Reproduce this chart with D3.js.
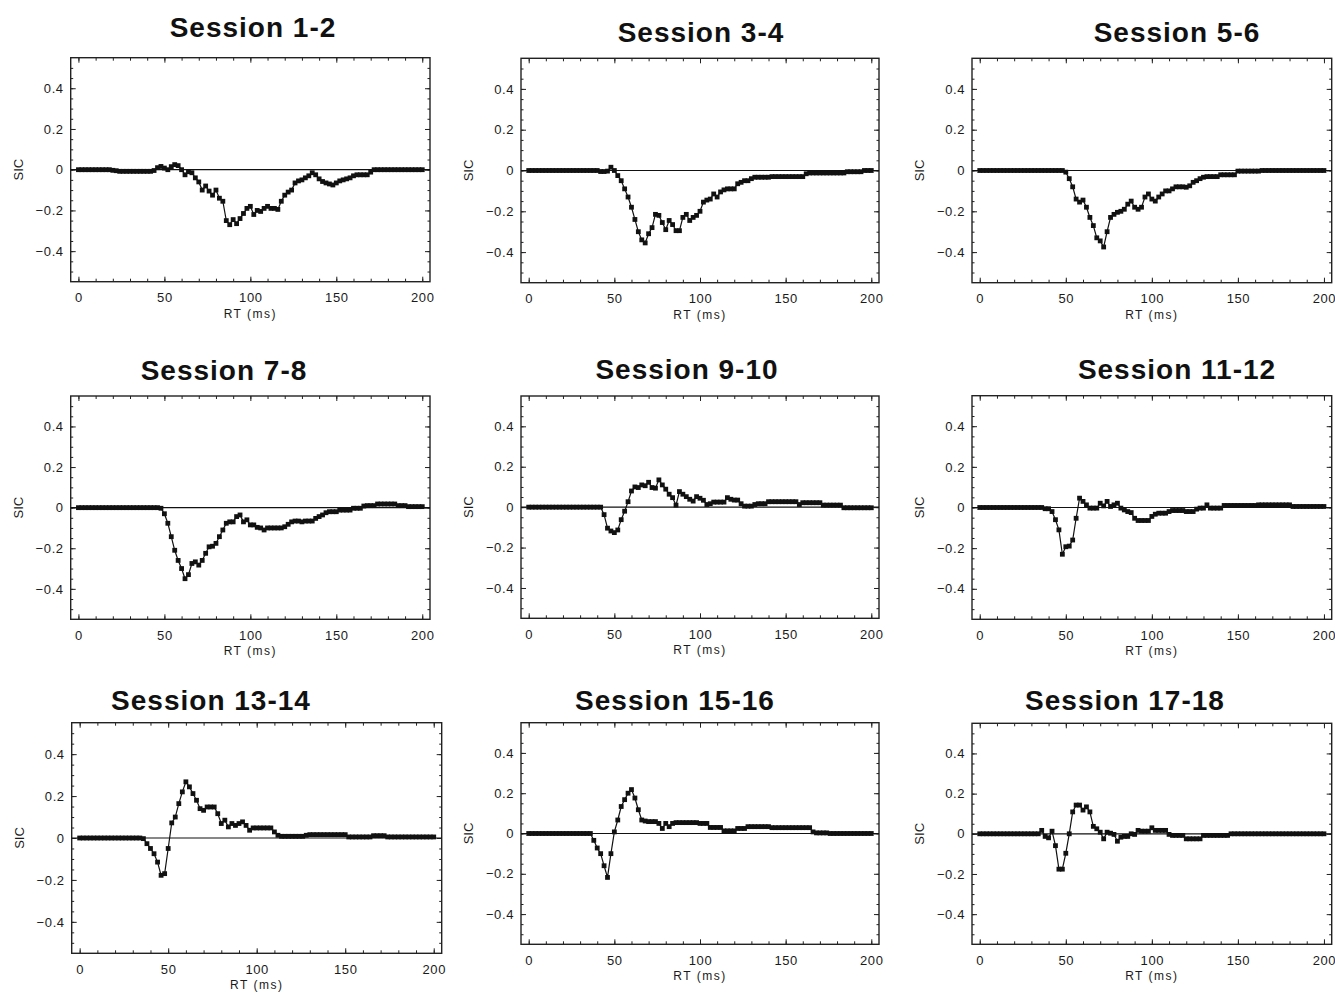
<!DOCTYPE html>
<html>
<head>
<meta charset="utf-8">
<script src="https://cdn.jsdelivr.net/npm/d3@7"></script>
<style>
  body { margin: 0; background: #fff; }
  svg { display: block; font-family: "Liberation Sans", Arial, sans-serif; }
</style>
</head>
<body>
<svg id="chart" width="1335" height="994"></svg>
<script>
// RT sampling grid (ms), one point every 2 ms
const rt = d3.range(0, 201, 2);

const titles = ["Session 1-2", "Session 3-4", "Session 5-6",
                "Session 7-8", "Session 9-10", "Session 11-12",
                "Session 13-14", "Session 15-16", "Session 17-18"];

const xTicks = [0, 50, 100, 150, 200];
const yTicks = [-0.4, -0.2, 0, 0.2, 0.4];

// SIC values, one per rt entry
const sic12 = [0,0,0,0,0,0,0,0,0,0,
  -0.003,-0.005,-0.008,-0.008,-0.008,-0.008,-0.008,-0.008,-0.008,-0.008,-0.008,-0.008,-0.004,
  0.01,0.016,0.008,0,0.015,0.025,0.02,0,-0.025,-0.01,-0.015,-0.04,-0.06,-0.1,-0.08,-0.105,-0.125,-0.1,-0.14,-0.155,
  -0.25,-0.27,-0.245,-0.265,-0.24,-0.215,-0.19,-0.18,-0.22,-0.2,-0.205,-0.19,-0.18,-0.19,-0.19,-0.195,-0.155,-0.125,
  -0.11,-0.1,-0.065,-0.055,-0.05,-0.04,-0.03,-0.015,-0.025,-0.045,-0.058,-0.065,-0.07,-0.075,-0.065,-0.055,-0.05,
  -0.045,-0.04,-0.03,-0.025,-0.025,-0.025,-0.025,-0.012,
  0,0,0,0,0,0,0,0,0,0,0,0,0,0,0];

const sic34 = [0,0,0,0,0,0,0,0,0,0,0,0,0,0,0,0,0,0,0,0,0,
  -0.005,-0.005,-0.003,0.016,0,-0.025,-0.05,-0.09,-0.13,-0.18,-0.24,-0.3,-0.34,-0.355,-0.31,-0.28,-0.215,-0.22,
  -0.255,-0.29,-0.245,-0.265,-0.295,-0.295,-0.23,-0.215,-0.245,-0.23,-0.22,-0.2,-0.155,-0.145,-0.14,-0.115,-0.13,
  -0.105,-0.095,-0.09,-0.09,-0.09,-0.065,-0.058,-0.05,-0.05,-0.04,
  -0.033,-0.033,-0.033,-0.033,-0.033,
  -0.03,-0.03,-0.03,-0.03,-0.03,-0.03,-0.03,-0.03,-0.03,-0.03,
  -0.016,
  -0.012,-0.012,-0.012,-0.012,-0.012,-0.012,-0.012,-0.012,-0.012,-0.012,-0.012,
  -0.006,-0.006,-0.006,-0.006,-0.006,0,0,0];

const sic56 = [0,0,0,0,0,0,0,0,0,0,0,0,0,0,0,0,0,0,0,0,0,0,0,0,0,
  -0.008,-0.04,-0.08,-0.14,-0.155,-0.145,-0.18,-0.23,-0.27,-0.33,-0.345,-0.375,-0.3,-0.23,-0.215,-0.205,-0.2,
  -0.19,-0.165,-0.15,-0.18,-0.19,-0.18,-0.13,-0.115,-0.14,-0.15,-0.13,-0.115,-0.1,-0.1,-0.09,-0.08,-0.08,-0.08,
  -0.082,-0.075,-0.058,-0.05,-0.04,-0.033,
  -0.03,-0.03,-0.03,-0.03,
  -0.021,-0.021,-0.021,-0.021,-0.021,
  -0.003,-0.003,-0.003,-0.003,-0.003,-0.003,-0.003,
  0,0,0,0,0,0,0,0,0,0,0,0,0,0,0,0,0,0,0];

const sic78 = [0,0,0,0,0,0,0,0,0,0,0,0,0,0,0,0,0,0,0,0,0,0,0,0,
  -0.003,-0.03,-0.077,-0.143,-0.21,-0.26,-0.3,-0.35,-0.33,-0.275,-0.267,-0.283,-0.26,-0.225,-0.193,-0.19,-0.176,
  -0.143,-0.11,-0.077,-0.07,-0.07,-0.044,-0.036,-0.07,-0.06,-0.085,-0.085,-0.097,-0.1,-0.11,-0.1,-0.1,-0.1,-0.1,
  -0.1,-0.094,-0.082,-0.07,-0.066,-0.066,-0.07,-0.066,-0.066,-0.066,-0.053,-0.044,-0.036,-0.025,-0.02,-0.02,-0.02,
  -0.012,-0.012,-0.012,-0.012,-0.003,-0.003,-0.003,0.008,0.01,0.01,0.01,
  0.018,0.018,0.018,0.018,0.018,0.018,
  0.01,0.01,0.01,0.005,0.005,0.005,0.005,0.005];

const sic910 = [0,0,0,0,0,0,0,0,0,0,0,0,0,0,0,0,0,0,0,0,0,0,
  -0.037,-0.104,-0.118,-0.126,-0.113,-0.062,-0.02,0.027,0.08,0.1,0.097,0.11,0.106,0.123,0.097,0.094,0.135,0.11,
  0.089,0.064,0.047,0.01,0.077,0.064,0.052,0.039,0.03,0.052,0.044,0.034,0.013,0.017,0.025,0.025,0.025,0.025,
  0.047,0.039,0.035,0.035,0.017,0.005,0.005,0.005,0.013,0.017,0.017,0.017,
  0.027,0.027,0.027,0.027,0.027,0.027,0.027,0.027,0.027,
  0.013,
  0.022,0.022,0.022,0.022,0.022,0.022,
  0.01,0.01,0.01,0.01,0.01,0.01,
  -0.003,-0.003,-0.003,-0.003,-0.003,-0.003,-0.003,-0.003,-0.003];

const sic1112 = [0,0,0,0,0,0,0,0,0,0,0,0,0,0,0,0,0,0,0,
  -0.006,-0.006,-0.02,-0.06,-0.11,-0.23,-0.193,-0.19,-0.16,-0.053,0.046,0.03,0.013,-0.003,-0.003,-0.003,0.021,
  0.008,0.03,0.005,0.013,0.021,-0.003,-0.012,-0.02,-0.025,-0.053,-0.064,-0.064,-0.064,-0.064,-0.044,-0.033,
  -0.028,-0.028,-0.028,-0.02,-0.015,-0.015,-0.015,-0.015,-0.02,-0.02,-0.02,-0.008,-0.003,-0.003,0.013,-0.003,
  -0.003,-0.003,-0.003,
  0.01,0.01,0.01,0.01,0.01,0.01,0.01,0.01,0.01,0.01,
  0.013,0.013,0.013,0.013,0.013,0.013,0.013,0.013,0.013,0.013,
  0.005,0.005,0.005,0.005,0.005,0.005,0.005,0.005,0.005,0.005];

const sic1314 = [0,0,0,0,0,0,0,0,0,0,0,0,0,0,0,0,0,0,
  -0.003,-0.027,-0.05,-0.075,-0.115,-0.178,-0.17,-0.05,0.072,0.1,0.164,0.22,0.268,0.244,0.212,0.18,0.14,0.132,
  0.148,0.148,0.148,0.116,0.069,0.085,0.053,0.069,0.06,0.069,0.077,0.06,0.037,
  0.048,0.048,0.048,0.048,0.048,0.048,
  0.029,0.013,
  0.008,0.008,0.008,0.008,0.008,0.008,0.008,
  0.013,
  0.016,0.016,0.016,0.016,0.016,0.016,0.016,0.016,0.016,0.016,0.016,
  0.005,0.005,0.005,0.005,0.005,0.005,0.005,
  0.011,0.011,0.011,0.011,
  0.005,0.005,0.005,0.005,0.005,0.005,0.005,0.005,0.005,0.005,0.005,0.005,0.005,0.005];

const sic1516 = [0,0,0,0,0,0,0,0,0,0,0,0,0,0,0,0,0,0,0,
  -0.034,-0.072,-0.1,-0.16,-0.218,-0.1,0.008,0.067,0.134,0.168,0.2,0.218,0.176,0.118,0.067,0.062,0.059,0.059,
  0.059,0.05,0.025,0.05,0.034,0.05,
  0.054,0.054,0.054,0.054,0.054,0.054,0.054,
  0.05,0.05,0.05,
  0.03,0.03,0.03,0.03,
  0.013,0.013,0.013,0.013,
  0.025,0.025,0.025,
  0.034,0.034,0.034,0.034,0.034,0.034,0.034,
  0.029,0.029,0.029,0.029,0.029,0.029,0.029,0.029,0.029,0.029,0.029,0.029,
  0.008,0.003,0.003,0.003,0.003,
  0,0,0,0,0,0,0,0,0,0,0,0,0];

const sic1718 = [0,0,0,0,0,0,0,0,0,0,0,0,0,0,0,0,0,0,
  0.017,-0.013,-0.02,0.013,-0.059,-0.176,-0.176,-0.097,0,0.109,0.143,0.143,0.118,0.134,0.109,0.037,0.025,0.008,
  -0.025,0.008,0.003,-0.003,-0.037,-0.017,-0.013,-0.013,0,-0.003,0.017,0.013,0.013,0.013,0.03,
  0.017,0.017,0.017,0.017,
  -0.003,
  -0.008,-0.008,-0.008,-0.008,
  -0.025,-0.025,-0.025,-0.025,-0.025,
  -0.008,-0.008,-0.008,-0.008,-0.008,-0.008,-0.008,-0.008,
  0,0,0,0,0,0,0,0,0,0,0,0,0,0,0,0,0,0,0,0,0,0,0,0,0,0,0,0];

const series = [sic12, sic34, sic56, sic78, sic910, sic1112, sic1314, sic1516, sic1718];

// Frame boxes [left, top, right, bottom] and title anchor [x, baseline]
const boxes = [
  [70.7, 57.7, 430, 281.7], [521, 58.3, 879, 282.7], [972, 58.3, 1331.7, 282.7],
  [70.7, 396, 430, 619.3], [521, 396, 879, 618.3], [972, 395.7, 1331.7, 619.3],
  [71.7, 722.7, 441.7, 953.3], [521, 722.7, 879, 944.3], [972, 723.3, 1331.7, 944.3]
];
const titlePos = [
  [253, 36.5], [701, 42], [1177, 42],
  [224, 380], [687, 379], [1177, 379],
  [211, 710], [675, 710], [1125, 710]
];

const svg = d3.select("#chart");
svg.append("rect").attr("width", 1335).attr("height", 994).attr("fill", "#fff");

const yFmt = d3.format(".1f");

series.forEach((data, i) => {
  if (data.length !== rt.length) {
    throw new Error(`${titles[i]}: ${data.length} values, expected ${rt.length}`);
  }
  const [L, T, R, B] = boxes[i];
  const x = d3.scaleLinear().domain([-4.5, 204.5]).range([L, R]);
  const y = d3.scaleLinear().domain([-0.55, 0.55]).range([B, T]);

  const g = svg.append("g");

  // Title
  g.append("text")
    .attr("x", titlePos[i][0])
    .attr("y", titlePos[i][1])
    .attr("text-anchor", "middle")
    .style("font-size", "28px")
    .style("font-weight", "bold")
    .style("letter-spacing", "1px")
    .style("fill", "#111")
    .text(titles[i]);

  // Minor ticks on all four sides
  const minorX = d3.range(0, 201, 10);
  const minorY = d3.range(-0.5, 0.51, 0.05);
  g.append("g").attr("transform", `translate(0,${B})`)
    .call(d3.axisBottom(x).tickValues(minorX).tickSize(-3).tickFormat(""));
  g.append("g").attr("transform", `translate(0,${T})`)
    .call(d3.axisTop(x).tickValues(minorX).tickSize(-3).tickFormat(""));
  g.append("g").attr("transform", `translate(${L},0)`)
    .call(d3.axisLeft(y).tickValues(minorY).tickSize(-2.5).tickFormat(""));
  g.append("g").attr("transform", `translate(${R},0)`)
    .call(d3.axisRight(y).tickValues(minorY).tickSize(-2.5).tickFormat(""));

  // Labelled axes
  const xAxis = g.append("g").attr("transform", `translate(0,${B})`)
    .call(d3.axisBottom(x).tickValues(xTicks).tickSizeInner(-5).tickSizeOuter(0).tickPadding(11));
  const yAxis = g.append("g").attr("transform", `translate(${L},0)`)
    .call(d3.axisLeft(y).tickValues(yTicks).tickSizeInner(-5).tickSizeOuter(0).tickPadding(7)
      .tickFormat(d => d === 0 ? "0" : yFmt(d)));
  g.append("g").attr("transform", `translate(${R},0)`)
    .call(d3.axisRight(y).tickValues(yTicks).tickSizeInner(-5).tickSizeOuter(0).tickFormat(""));
  g.append("g").attr("transform", `translate(0,${T})`)
    .call(d3.axisTop(x).tickValues(xTicks).tickSizeInner(-5).tickSizeOuter(0).tickFormat(""));

  g.selectAll(".domain").remove();
  g.selectAll(".tick line").attr("stroke", "#222");
  [xAxis, yAxis].forEach(a => a.selectAll("text")
    .style("font-size", "13px")
    .style("letter-spacing", "0.6px")
    .style("font-family", "'Liberation Sans', Arial, sans-serif")
    .attr("fill", "#1a1a1a"));

  // Axis titles
  g.append("text")
    .attr("x", (L + R) / 2)
    .attr("y", B + 36)
    .attr("text-anchor", "middle")
    .style("font-size", "12px")
    .style("letter-spacing", "1.5px")
    .style("fill", "#1a1a1a")
    .text("RT (ms)");
  g.append("text")
    .attr("transform", `translate(${L - 48},${y(0)}) rotate(-90)`)
    .attr("text-anchor", "middle")
    .style("font-size", "13px")
    .style("fill", "#1a1a1a")
    .text("SIC");

  // Frame
  g.append("rect")
    .attr("x", L).attr("y", T)
    .attr("width", R - L).attr("height", B - T)
    .attr("fill", "none")
    .attr("stroke", "#222")
    .attr("stroke-width", 1.4);

  // Zero reference line
  g.append("line")
    .attr("x1", L).attr("x2", R)
    .attr("y1", y(0)).attr("y2", y(0))
    .attr("stroke", "#111")
    .attr("stroke-width", 1.2);

  // SIC curve: thin line plus square markers
  const pts = rt.map((t, k) => [t, data[k]]);
  g.append("path")
    .datum(pts)
    .attr("fill", "none")
    .attr("stroke", "#111")
    .attr("stroke-width", 1.2)
    .attr("d", d3.line().x(d => x(d[0])).y(d => y(d[1])));

  const s = 4.8;
  g.selectAll(".pt")
    .data(pts)
    .enter()
    .append("rect")
    .attr("class", "pt")
    .attr("x", d => x(d[0]) - s / 2)
    .attr("y", d => y(d[1]) - s / 2)
    .attr("width", s)
    .attr("height", s)
    .attr("fill", "#111");
});
</script>
</body>
</html>
